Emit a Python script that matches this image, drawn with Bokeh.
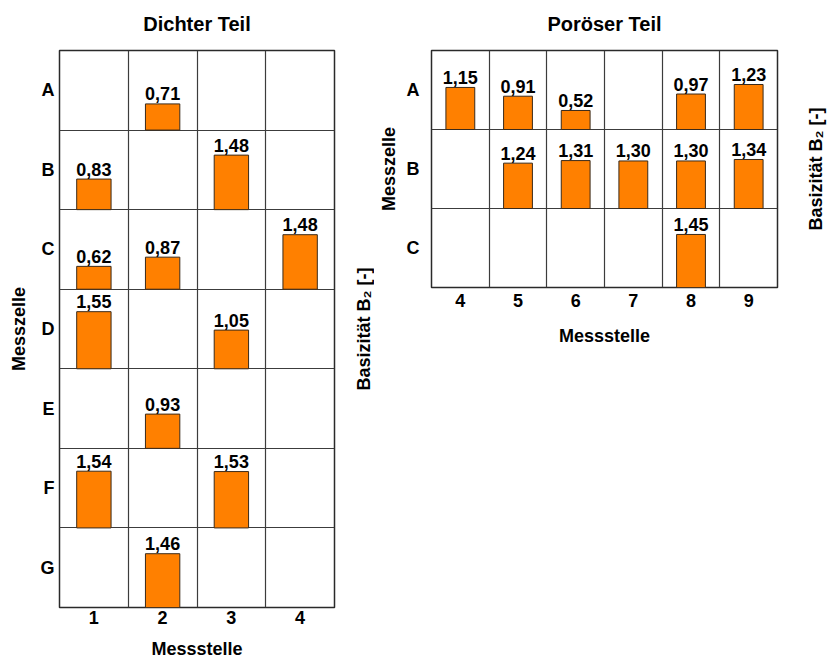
from bokeh.plotting import figure
from bokeh.models import FixedTicker, Range1d, ColumnDataSource, Label
from bokeh.layouts import row, column
from bokeh.embed import file_html
from bokeh.resources import INLINE
from bokeh.core.properties import value

# ---- data: Dichter Teil ----
dense_rows = ["A", "B", "C", "D", "E", "F", "G"]
dense_cols = [1, 2, 3, 4]
dense_row = ["A", "B", "B", "C", "C", "C", "D", "D", "E", "F", "F", "G"]
dense_col = [2, 1, 3, 1, 2, 4, 1, 3, 2, 1, 3, 2]
dense_val = [0.71, 0.83, 1.48, 0.62, 0.87, 1.48, 1.55, 1.05, 0.93, 1.54, 1.53, 1.46]

# ---- data: Poröser Teil ----
porous_rows = ["A", "B", "C"]
porous_cols = [4, 5, 6, 7, 8, 9]
porous_row = ["A", "A", "A", "A", "A", "B", "B", "B", "B", "B", "C"]
porous_col = [4, 5, 6, 8, 9, 5, 6, 7, 8, 9, 8]
porous_val = [1.15, 0.91, 0.52, 0.97, 1.23, 1.24, 1.31, 1.30, 1.30, 1.34, 1.45]

CELL = 2.16          # B2 units spanned by one cell row
FONT = "Liberation Sans"
ORANGE = "#FF8000"
GRID = "#3c3c3c"
B2_LABEL = "Basizität B₂ [-]"


def no_align(p):
    if "frame_align" in p.properties():
        p.frame_align = False


def style_axis(ax):
    ax.axis_line_color = None
    ax.major_tick_line_color = None
    ax.minor_tick_line_color = None
    ax.major_tick_out = 0
    ax.major_tick_in = 0
    ax.minor_tick_out = 0
    ax.minor_tick_in = 0
    ax.major_label_text_font = FONT
    ax.major_label_text_font_size = "18px"
    ax.major_label_text_font_style = "bold"
    ax.major_label_text_color = "black"
    ax.axis_label_text_font = FONT
    ax.axis_label_text_font_size = "18px"
    ax.axis_label_text_font_style = "bold"
    ax.axis_label_text_color = "black"


def strip(width, height, borders):
    bl, br, bt, bb = borders
    q = figure(width=width, height=height, output_backend="svg", toolbar_location=None,
               x_axis_location=None, y_axis_location=None,
               x_range=Range1d(0, 1), y_range=Range1d(0, 1),
               min_border_left=bl, min_border_right=br,
               min_border_top=bt, min_border_bottom=bb)
    no_align(q)
    q.outline_line_color = None
    q.background_fill_color = "white"
    q.border_fill_color = "white"
    q.grid.visible = False
    return q


def text_label(text, size, **kw):
    return Label(text=text, text_align="center", text_baseline="middle",
                 text_font=FONT, text_font_size=size,
                 text_font_style="bold", text_color="black", **kw)


def title_strip(title, width, height, bl, br):
    q = strip(width, height, (bl, br, 0, 0))
    q.add_layout(text_label(title, "20px", x=0.5, y=0.5))
    return q


def side_label(text, width, height, bt, bb, x_px):
    """Narrow strip holding a rotated axis title (Basizität B2)."""
    q = strip(width, height, (0, 0, bt, bb))
    q.add_layout(text_label(text, "18px", x=x_px, x_units="screen", y=0.5,
                            angle=90, angle_units="deg"))
    return q


def panel(rows, cols, r, c, v, width, height, borders, off):
    n = len(rows)
    base = [(n - 1 - rows.index(x)) * CELL for x in r]
    top = [b + val for b, val in zip(base, v)]
    labels = [f"{val:.2f}".replace(".", ",") for val in v]
    src = ColumnDataSource(dict(x=c, bottom=base, top=top, label=labels))

    bl, br, bt, bb = borders
    p = figure(width=width, height=height, output_backend="svg", toolbar_location=None,
               x_range=Range1d(cols[0] - 0.5, cols[-1] + 0.5),
               y_range=Range1d(0, n * CELL),
               min_border_left=bl, min_border_right=br,
               min_border_top=bt, min_border_bottom=bb)
    no_align(p)
    p.background_fill_color = "white"
    p.border_fill_color = "white"
    p.outline_line_color = "#2a2a2a"
    p.outline_line_width = 1.5

    # grid lines at cell borders
    p.xgrid.ticker = FixedTicker(ticks=[k + 0.5 for k in cols[:-1]])
    p.ygrid.ticker = FixedTicker(ticks=[k * CELL for k in range(1, n)])
    for g in (p.xgrid[0], p.ygrid[0]):
        g.grid_line_color = GRID
        g.grid_line_width = 1.2
        g.grid_line_alpha = 1.0

    xa = p.xaxis[0]
    xa.ticker = FixedTicker(ticks=cols)
    xa.axis_label = "Messstelle"
    ya = p.yaxis[0]
    ya.ticker = FixedTicker(ticks=[(n - 1 - i) * CELL + CELL / 2 for i in range(n)])
    ya.major_label_overrides = {(n - 1 - i) * CELL + CELL / 2: rows[i] for i in range(n)}
    ya.axis_label = "Messzelle"
    for ax in (xa, ya):
        style_axis(ax)
    xa.major_label_standoff = off["x_tick"]
    xa.axis_label_standoff = off["x_label"]
    ya.major_label_standoff = off["y_tick"]
    ya.axis_label_standoff = off["y_label"]

    p.vbar(x="x", bottom="bottom", top="top", width=0.5, source=src,
           fill_color=ORANGE, line_color="#3a2a1a", line_width=1)
    p.text(x="x", y="top", text="label", source=src, text_align="center",
           text_baseline="alphabetic", y_offset=-10, text_font=value(FONT),
           text_font_style="bold", text_font_size="18px", text_color="black")
    return p


t1 = title_strip("Dichter Teil", 337, 46, 59, 3)
p1 = panel(dense_rows, dense_cols, dense_row, dense_col, dense_val,
           337, 618, (59, 3, 4, 57),
           dict(x_tick=3, x_label=12, y_tick=5, y_label=8))
mid = side_label(B2_LABEL, 37, 664, 50, 57, 26)
t2 = title_strip("Poröser Teil", 426, 46, 57, 23)
p2 = panel(porous_rows, porous_cols, porous_row, porous_col, porous_val,
           426, 307, (57, 23, 4, 66),
           dict(x_tick=6, x_label=16, y_tick=12, y_label=5))
right = side_label(B2_LABEL, 27, 353, 50, 66, 15)

layout = row(column(t1, p1), mid, column(t2, p2), right)
open("out.html", "w").write(file_html(layout, INLINE))
